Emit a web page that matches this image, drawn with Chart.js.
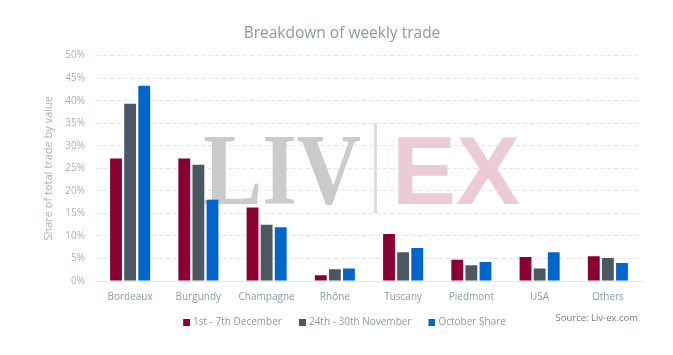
<!DOCTYPE html>
<html><head><meta charset="utf-8">
<script src="https://cdn.jsdelivr.net/npm/chart.js@4"></script>
<style>html,body{margin:0;padding:0;background:#fff}#wrap{width:673px;height:355px}</style>
</head><body><div id="wrap"><canvas id="c"></canvas></div>
<script>
const categories = ["Bordeaux","Burgundy","Champagne","Rhône","Tuscany","Piedmont","USA","Others"];
const decWeek = [27.2, 27.2, 16.3, 1.3, 10.4, 4.7, 5.3, 5.5];
const novWeek = [39.3, 25.8, 12.5, 2.6, 6.4, 3.5, 2.8, 5.1];
const octShare = [43.3, 18.0, 11.9, 2.8, 7.3, 4.2, 6.4, 4.0];
const seriesNames = ["1st - 7th December","24th - 30th November","October Share"];
const seriesColors = ['#8a0034', '#4b5862', '#0066cc'];
const textCol = "#8c9aa6";
const FONT = "'Open Sans', sans-serif";

function swatch(color) {
  const c = document.createElement('canvas');
  c.width = 14; c.height = 7;
  const g = c.getContext('2d');
  g.fillStyle = color;
  g.fillRect(7, 0, 7, 7);
  return c;
}
const swatches = seriesColors.map(swatch);

const watermark = {
  id: 'watermark',
  beforeDatasetsDraw(chart) {
    const ctx = chart.ctx;
    ctx.save();
    ctx.textBaseline = 'alphabetic';
    ctx.fillStyle = '#cbcbcb';
    ctx.font = "bold 102px 'Liberation Serif', serif";
    ctx.fillText('LIV', 203, 204, 158);
    ctx.fillStyle = '#dcdfe1';
    ctx.fillRect(374, 123, 3, 90);
    ctx.fillStyle = '#ebcbd5';
    ctx.font = "bold 96px 'Liberation Sans', sans-serif";
    ctx.fillText('EX', 392, 204, 142);
    ctx.restore();
  },
  afterDraw(chart) {
    const ctx = chart.ctx;
    ctx.save();
    ctx.fillStyle = '#75818b';
    ctx.font = "9.5px " + FONT;
    ctx.textAlign = 'right';
    ctx.textBaseline = 'middle';
    ctx.fillText('Source: Liv-ex.com', 638, 318);
    ctx.restore();
  }
};

new Chart(document.getElementById('c'), {
  type: 'bar',
  data: {
    labels: categories,
    datasets: [
      {label: seriesNames[0], data: decWeek, backgroundColor: seriesColors[0]},
      {label: seriesNames[1], data: novWeek, backgroundColor: seriesColors[1]},
      {label: seriesNames[2], data: octShare, backgroundColor: seriesColors[2]}
    ]
  },
  options: {
    responsive: true,
    maintainAspectRatio: false,
    animation: false,
    datasets: {bar: {categoryPercentage: 0.62, barPercentage: 0.84}},
    layout: {padding: {left: 42, right: 31, top: 10, bottom: 18}},
    plugins: {
      title: {display: true, text: 'Breakdown of weekly trade', color: textCol,
        font: {family: FONT, size: 15.5, weight: 'normal'}, padding: {top: 14, bottom: 13}},
      legend: {position: 'bottom', align: 'center',
        labels: {usePointStyle: true, pointStyleWidth: 10, boxHeight: 7,
          color: '#8c9aa6', padding: 12, font: {family: FONT, size: 10},
          generateLabels(chart) {
            return Chart.defaults.plugins.legend.labels.generateLabels(chart)
              .map((l, i) => Object.assign(l, {pointStyle: swatches[i]}));
          }}},
      tooltip: {enabled: false}
    },
    scales: {
      x: {
        grid: {display: false},
        border: {display: true, color: '#e3e6e8'},
        ticks: {color: textCol, font: {family: FONT, size: 10}, padding: 2,
          maxRotation: 0, minRotation: 0, autoSkip: false}
      },
      y: {
        min: 0, max: 50,
        grid: {color: '#e4e4e4', drawTicks: false},
        border: {display: false, dash: [4, 3]},
        ticks: {stepSize: 5, color: '#a8b2ba', font: {family: FONT, size: 10}, padding: 11,
          callback: v => v + '%'},
        title: {display: true, text: 'Share of total trade by value', color: '#a8b2ba',
          font: {family: FONT, size: 11}, padding: {top: 0, bottom: 3}},
        afterFit(scale) { scale.width = 54; }
      }
    }
  },
  plugins: [watermark]
});
</script></body></html>
